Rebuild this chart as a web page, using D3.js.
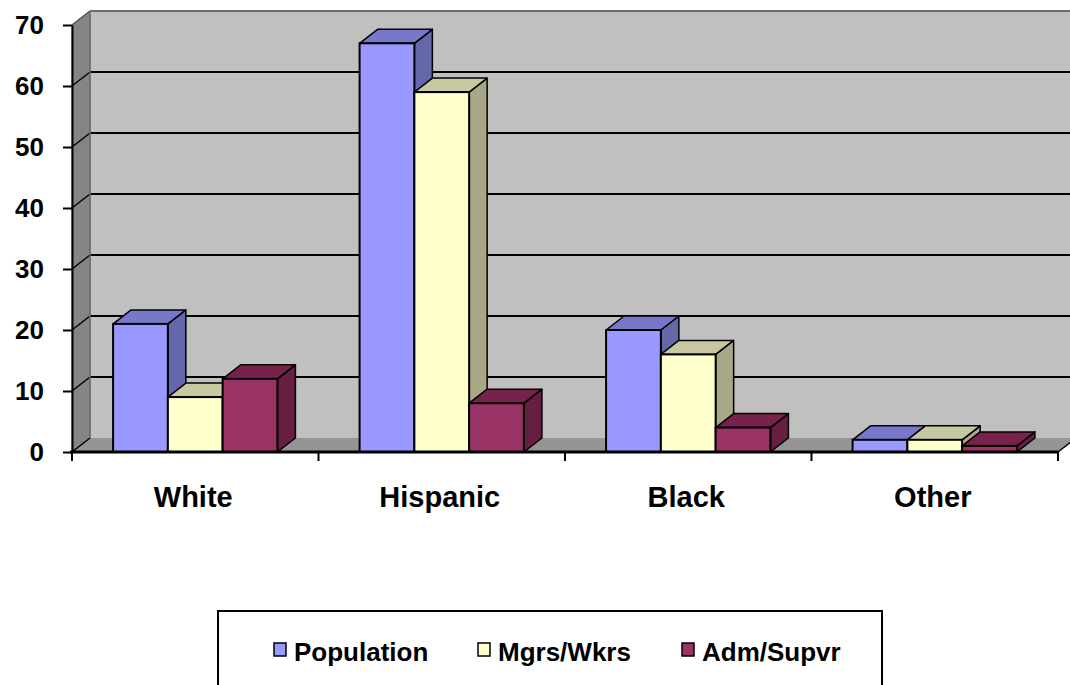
<!DOCTYPE html>
<html>
<head>
<meta charset="utf-8">
<script src="https://cdn.jsdelivr.net/npm/d3@7"></script>
<style>
  body { margin: 0; background: #fff; }
  svg { display: block; font-family: "Liberation Sans", Arial, sans-serif; font-weight: bold; }
</style>
</head>
<body>
<div id="chart"></div>
<script>
var categories = ["White", "Hispanic", "Black", "Other"];
var series = ["Population", "Mgrs/Wkrs", "Adm/Supvr"];
var population = [21, 67, 20, 2];
var mgrsWkrs = [9, 59, 16, 2];
var admSupvr = [12, 8, 4, 1];
var yTicks = [0, 10, 20, 30, 40, 50, 60, 70];

// front, top, side shades per series
var colors = [
    { front: "#9999ff", top: "#7777cc", side: "#6666aa" },
    { front: "#ffffcc", top: "#c8c8a0", side: "#a8a888" },
    { front: "#993366", top: "#77224d", side: "#661f40" }
];

function init() {
    var w = 1070, h = 685;
    var dx = 18, dy = -14;   // depth offset

    var values = [population, mgrsWkrs, admSupvr];

    var x0 = d3.scaleBand()
               .domain(categories)
               .range([72, 1058]);

    var x1 = d3.scaleBand()
               .domain(series)
               .range([0, x0.bandwidth()])
               .paddingOuter(0.75);

    var y = d3.scaleLinear()
              .domain([0, 70])
              .range([452, 25]);

    var svg = d3.select("#chart")
                .append("svg")
                .attr("width", w)
                .attr("height", h);

    var x0L = x0.range()[0], x0R = x0.range()[1];

    // back wall
    svg.append("rect")
       .attr("x", x0L + dx)
       .attr("y", y(70) + dy)
       .attr("width", w - x0L - dx + 5)
       .attr("height", y(0) - y(70))
       .attr("fill", "#c0c0c0");

    // left wall
    svg.append("polygon")
       .attr("points", [[x0L, y(0)], [x0L, y(70)], [x0L + dx, y(70) + dy], [x0L + dx, y(0) + dy]].join(" "))
       .attr("fill", "#858585")
       .attr("stroke", "#666")
       .attr("stroke-width", 1);

    // floor
    svg.append("polygon")
       .attr("points", [[x0L, y(0)], [x0R, y(0)], [x0R + dx, y(0) + dy], [x0L + dx, y(0) + dy]].join(" "))
       .attr("fill", "#959595");

    // gridlines on the walls
    var grid = svg.append("g");
    yTicks.slice(1).forEach(function(t) {
        grid.append("line")
            .attr("x1", x0L + dx).attr("x2", w)
            .attr("y1", y(t) + dy).attr("y2", y(t) + dy)
            .attr("stroke", t === 70 ? "#6e6e6e" : "#000")
            .attr("stroke-width", 2);
    });
    yTicks.forEach(function(t) {
        grid.append("line")
            .attr("x1", x0L).attr("y1", y(t))
            .attr("x2", x0L + dx).attr("y2", y(t) + dy)
            .attr("stroke", t === 70 ? "#555" : "#000")
            .attr("stroke-width", 1.5);
    });
    svg.append("line")
       .attr("x1", x0L + dx).attr("x2", x0L + dx)
       .attr("y1", y(70) + dy).attr("y2", y(0) + dy)
       .attr("stroke", "#6e6e6e")
       .attr("stroke-width", 1.5);

    // bars, drawn left to right: side, top, front
    var bars = [];
    categories.forEach(function(c, ci) {
        series.forEach(function(s, si) {
            bars.push({ cat: c, ser: s, si: si, value: values[si][ci] });
        });
    });

    var bar = svg.selectAll("g.bar")
                 .data(bars)
                 .enter()
                 .append("g")
                 .attr("class", "bar");

    bar.append("polygon")
       .attr("points", function(d) {
           var xr = x0(d.cat) + x1(d.ser) + x1.bandwidth();
           return [[xr, y(d.value)], [xr + dx, y(d.value) + dy], [xr + dx, y(0) + dy], [xr, y(0)]].join(" ");
       })
       .attr("fill", function(d) { return colors[d.si].side; })
       .attr("stroke", "#000")
       .attr("stroke-width", 1.5)
       .attr("stroke-linejoin", "round");

    bar.append("polygon")
       .attr("points", function(d) {
           var xl = x0(d.cat) + x1(d.ser);
           var xr = xl + x1.bandwidth();
           var yt = y(d.value);
           return [[xl, yt], [xr, yt], [xr + dx, yt + dy], [xl + dx, yt + dy]].join(" ");
       })
       .attr("fill", function(d) { return colors[d.si].top; })
       .attr("stroke", "#000")
       .attr("stroke-width", 1.5)
       .attr("stroke-linejoin", "round");

    bar.append("rect")
       .attr("x", function(d) { return x0(d.cat) + x1(d.ser); })
       .attr("y", function(d) { return y(d.value); })
       .attr("width", x1.bandwidth())
       .attr("height", function(d) { return y(0) - y(d.value); })
       .attr("fill", function(d) { return colors[d.si].front; })
       .attr("stroke", "#000")
       .attr("stroke-width", 2);

    // y axis
    var yAxis = svg.append("g")
                   .attr("transform", "translate(" + x0L + ",0)")
                   .call(d3.axisLeft(y).tickValues(yTicks).tickSize(9).tickPadding(19).tickSizeOuter(0));
    yAxis.select(".domain").attr("stroke", "#000").attr("stroke-width", 2);
    yAxis.selectAll(".tick line").attr("stroke", "#000").attr("stroke-width", 2);
    yAxis.selectAll("text")
         .attr("fill", "#000")
         .style("font-size", "26px")
         .style("font-family", "'Liberation Sans', Arial, sans-serif")
         .style("font-weight", "bold");

    // x axis line and boundary ticks
    svg.append("line")
       .attr("x1", x0L - 2).attr("x2", x0R)
       .attr("y1", y(0)).attr("y2", y(0))
       .attr("stroke", "#000")
       .attr("stroke-width", 3);

    var bounds = categories.map(function(c) { return x0(c); }).concat([x0R]);
    svg.selectAll("line.xtick")
       .data(bounds)
       .enter()
       .append("line")
       .attr("class", "xtick")
       .attr("x1", function(d) { return d; }).attr("x2", function(d) { return d; })
       .attr("y1", y(0)).attr("y2", y(0) + 9)
       .attr("stroke", "#000")
       .attr("stroke-width", 2);

    // the floor edge continues at the right
    svg.append("line")
       .attr("x1", x0R).attr("y1", y(0))
       .attr("x2", x0R + dx).attr("y2", y(0) + dy)
       .attr("stroke", "#000")
       .attr("stroke-width", 1.5);

    svg.selectAll("text.cat")
       .data(categories)
       .enter()
       .append("text")
       .attr("class", "cat")
       .attr("x", function(d) { return x0(d) + x0.bandwidth() / 2 - 2; })
       .attr("y", 507)
       .attr("text-anchor", "middle")
       .style("font-size", "29px")
       .text(function(d) { return d; });

    // legend
    svg.append("rect")
       .attr("x", 218).attr("y", 611)
       .attr("width", 664).attr("height", 120)
       .attr("fill", "#fff")
       .attr("stroke", "#000")
       .attr("stroke-width", 2);

    var legendX = [274, 478, 682];
    var item = svg.selectAll("g.legend")
                  .data(series)
                  .enter()
                  .append("g")
                  .attr("class", "legend")
                  .attr("transform", function(d, i) { return "translate(" + legendX[i] + ",643)"; });

    item.append("rect")
        .attr("width", 12).attr("height", 13)
        .attr("fill", function(d, i) { return colors[i].front; })
        .attr("stroke", "#000")
        .attr("stroke-width", 1.5);

    item.append("text")
        .attr("x", 20)
        .attr("y", 18)
        .style("font-size", "26px")
        .text(function(d) { return d; });
}

window.onload = init;
</script>
</body>
</html>
